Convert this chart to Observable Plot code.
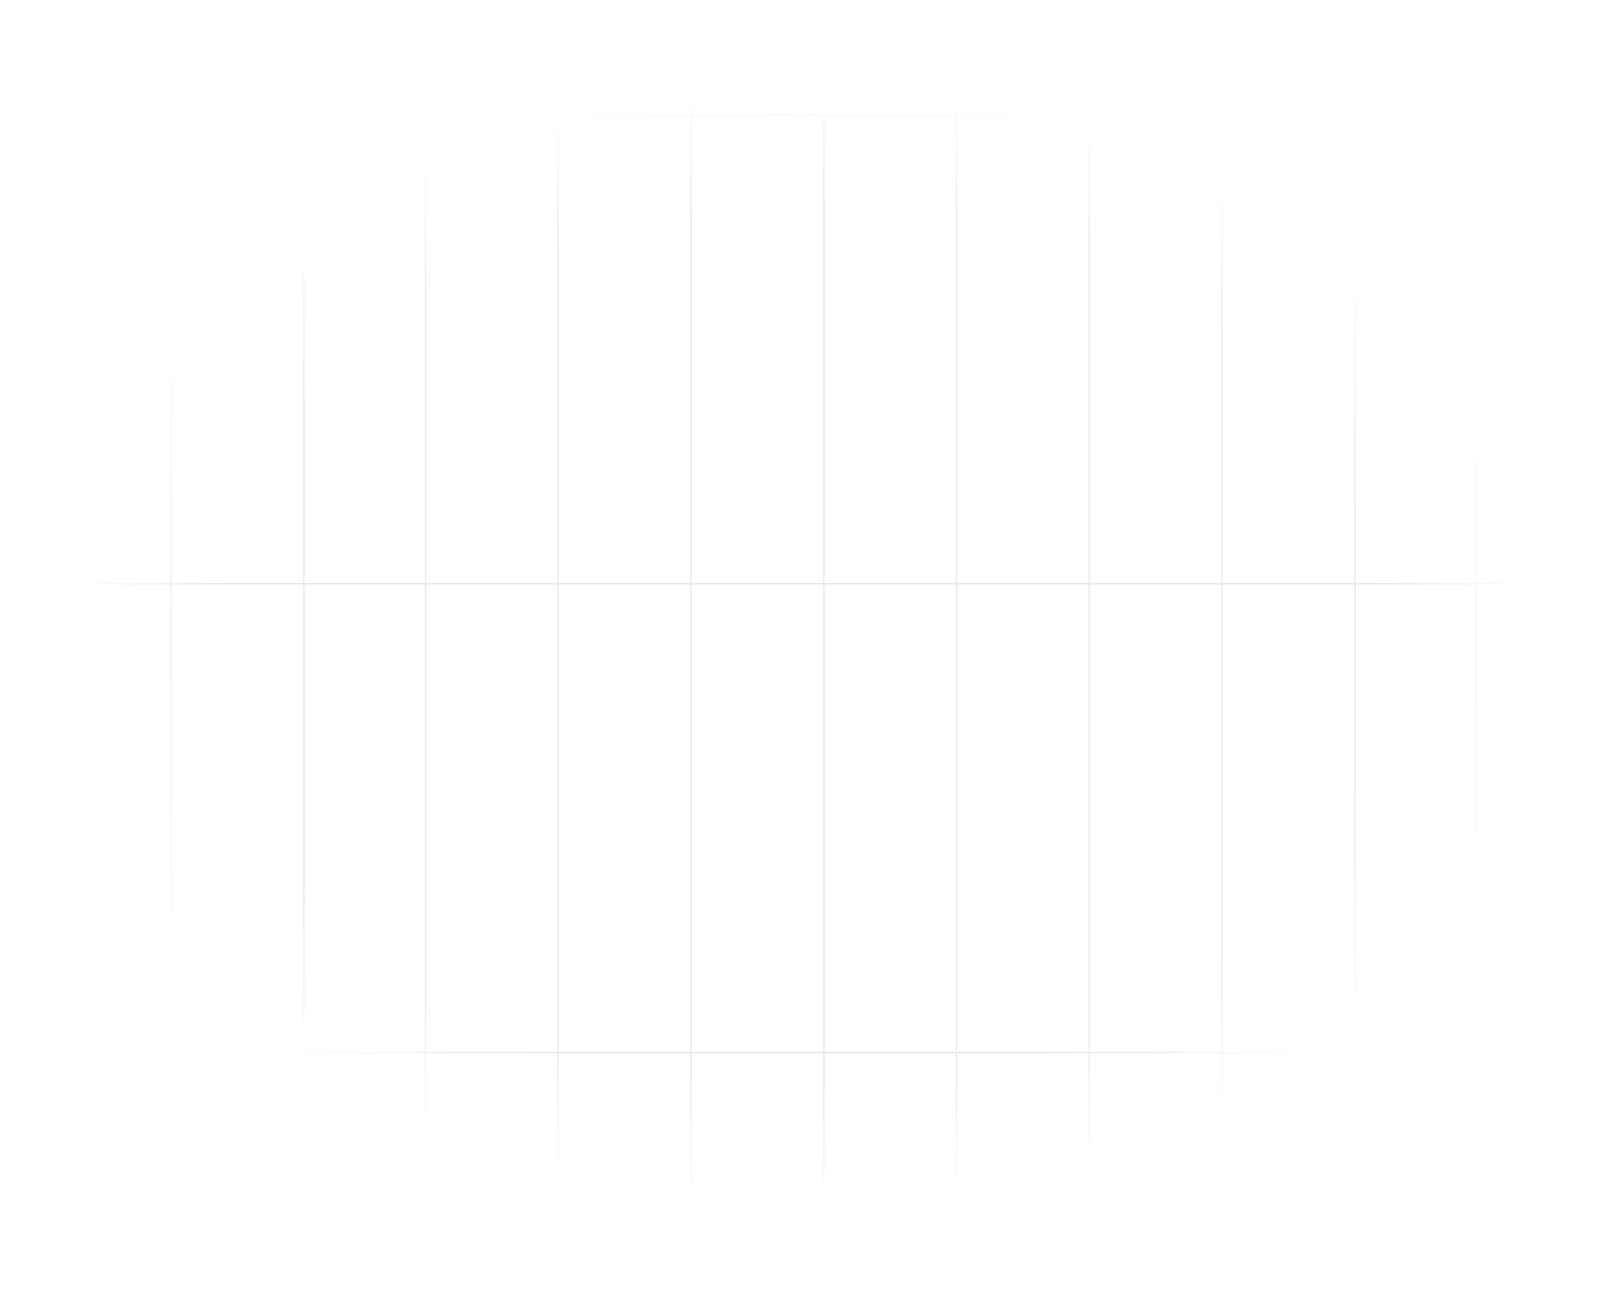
<!DOCTYPE html>
<html>
<head>
<meta charset="utf-8">
<script src="https://cdn.jsdelivr.net/npm/d3@7"></script>
<script src="https://cdn.jsdelivr.net/npm/@observablehq/plot@0.6"></script>
<style>
  html, body { margin: 0; padding: 0; background: #ffffff; overflow: hidden; }
  #chart svg {
    display: block;
    background: #ffffff;
    -webkit-mask-image: radial-gradient(ellipse 50% 47.2% at 50% 50%, #000 72%, transparent 93%);
    mask-image: radial-gradient(ellipse 50% 47.2% at 50% 50%, #000 72%, transparent 93%);
  }
</style>
</head>
<body>
<div id="chart"></div>
<script>
// Grid positions (chart units = reference pixels, 5028 x 3305)
const xTicks = [537.5, 954.5, 1336.6, 1753.6, 2170.6, 2588.5, 3005.4, 3422.3, 3840, 4257.5, 4638];
const yTicks = [295, 1494, 2694];
const xDomain = [0, 5028];
const yDomain = [0, 3305];

const W = Math.min(window.innerWidth || 5028, 5028);
const H = 3305;
const kx = W / 5028;

const chart = Plot.plot({
  width: W,
  height: H,
  margin: 0,
  style: { background: "#ffffff", maxWidth: "none" },
  x: { domain: xDomain, range: [0, W], axis: null },
  y: { domain: yDomain, range: [0, H], axis: null },
  marks: [
    Plot.ruleX(xTicks, { x: d => d, stroke: "#e8e8e8", strokeWidth: 4 * kx }),
    Plot.ruleY(yTicks, { y: d => d, stroke: "#e8e8e8", strokeWidth: 4 })
  ]
});
document.getElementById("chart").appendChild(chart);
</script>
</body>
</html>
